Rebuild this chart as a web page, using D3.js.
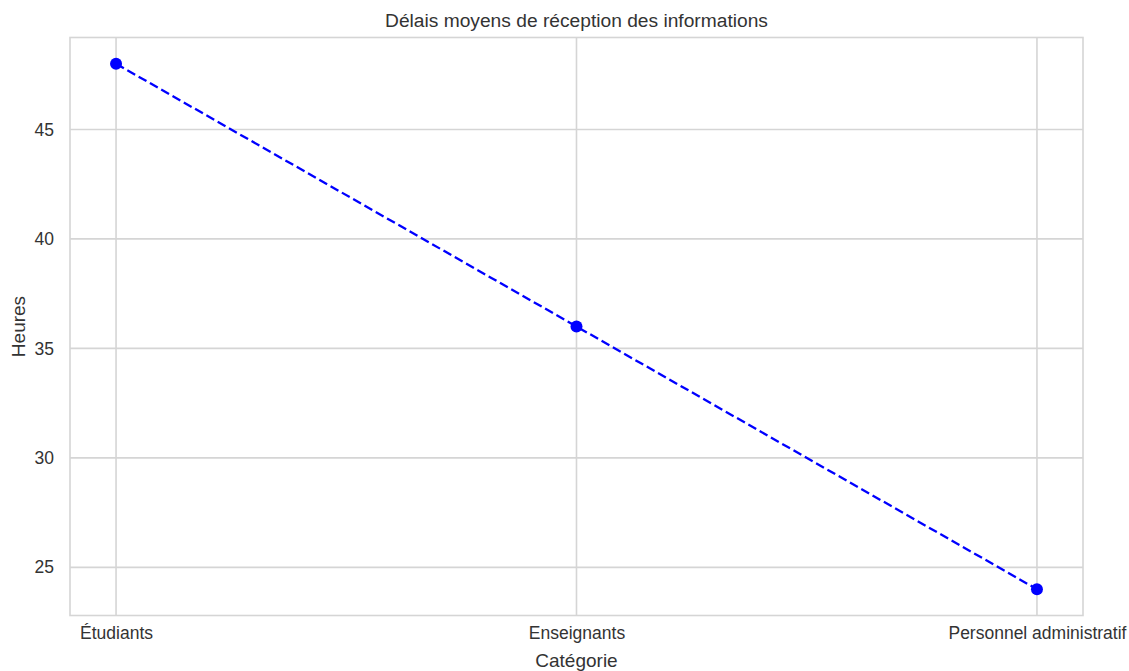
<!DOCTYPE html>
<html><head><meta charset="utf-8">
<script src="https://cdn.jsdelivr.net/npm/d3@7"></script>
<style>body{margin:0;background:#fff;} svg{display:block;font-family:"Liberation Sans",Arial,sans-serif;}</style>
</head><body>
<svg id="c" width="1129" height="671"></svg>
<script>
const categories = ["Étudiants", "Enseignants", "Personnel administratif"];
const values = [48, 36, 24];
const yTicks = [25, 30, 35, 40, 45];
const title = "Délais moyens de réception des informations";
const xLabel = "Catégorie";
const yLabel = "Heures";

const svg = d3.select("#c");
const L = 70, R = 1083, T = 37.5, B = 615.5;
const x = d3.scaleLinear().domain([-0.1, 2.1]).range([L, R]);
const y = d3.scaleLinear().domain([22.8, 49.2]).range([B, T]);
const grid = "#d5d5d5", txt = "#333";

// grid
svg.append("g").selectAll("line").data(yTicks).join("line")
  .attr("x1", L).attr("x2", R).attr("y1", d => y(d)).attr("y2", d => y(d))
  .attr("stroke", grid).attr("stroke-width", 1.6);
svg.append("g").selectAll("line").data(categories).join("line")
  .attr("y1", T).attr("y2", B).attr("x1", (d,i) => x(i)).attr("x2", (d,i) => x(i))
  .attr("stroke", grid).attr("stroke-width", 1.6);
svg.append("rect").attr("x", L).attr("y", T).attr("width", R-L).attr("height", B-T)
  .attr("fill", "none").attr("stroke", grid).attr("stroke-width", 1.6);

// axes
const yAxis = svg.append("g").attr("transform", `translate(${L},0)`)
  .call(d3.axisLeft(y).tickValues(yTicks).tickSize(0).tickPadding(16));
const xAxis = svg.append("g").attr("transform", `translate(0,${B})`)
  .call(d3.axisBottom(x).tickValues([0,1,2]).tickFormat(i => categories[i]).tickSize(0).tickPadding(11));
[yAxis, xAxis].forEach(a => {
  a.select(".domain").remove();
  a.attr("font-size", null).attr("font-family", null);
  a.selectAll("text").attr("fill", txt).style("font-size", "17.5px");
});

// line
const line = d3.line().x((d,i) => x(i)).y(d => y(d));
svg.append("path").datum(values).attr("d", line).attr("fill", "none")
  .attr("stroke", "blue").attr("stroke-width", 2.3).attr("stroke-dasharray", "9,4");
svg.append("g").selectAll("circle").data(values).join("circle")
  .attr("cx", (d,i) => x(i)).attr("cy", d => y(d)).attr("r", 6).attr("fill", "blue");

// labels
svg.append("text").attr("x", (L+R)/2).attr("y", 27).attr("text-anchor", "middle")
  .attr("fill", txt).style("font-size", "19.2px").text(title);
svg.append("text").attr("x", (L+R)/2).attr("y", 667).attr("text-anchor", "middle")
  .attr("fill", txt).style("font-size", "19px").text(xLabel);
svg.append("text").attr("transform", `translate(25,${(T+B)/2}) rotate(-90)`).attr("text-anchor", "middle")
  .attr("fill", txt).style("font-size", "19px").text(yLabel);
</script>
</body></html>
